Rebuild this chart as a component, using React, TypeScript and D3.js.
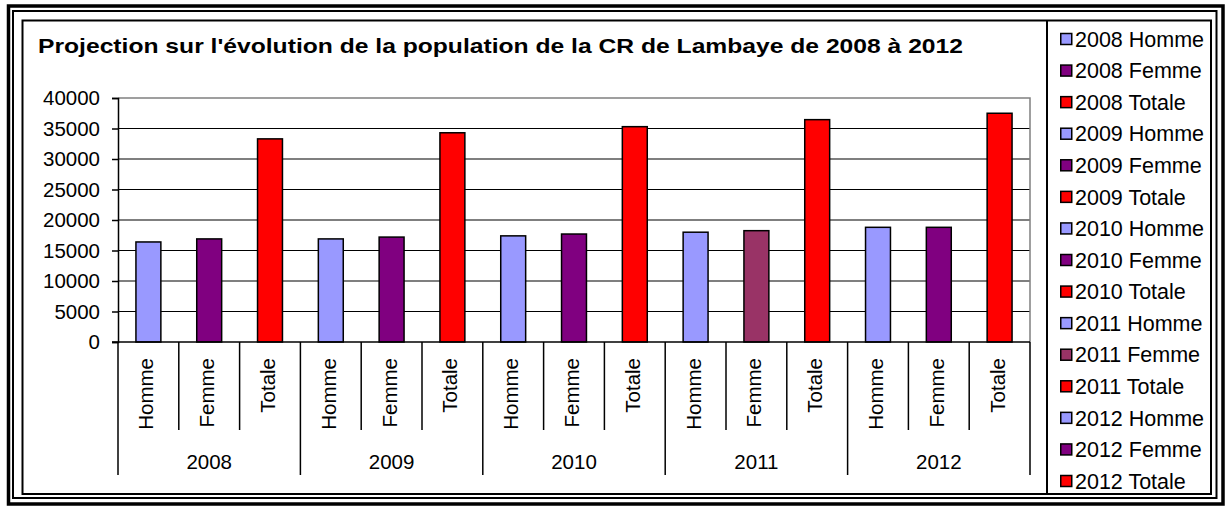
import React, { useEffect, useRef } from 'react';
import * as d3 from 'd3';

const years = ['2008', '2009', '2010', '2011', '2012'];
const genres = ['Homme', 'Femme', 'Totale'];
const hommeValues = [16400, 16900, 17400, 18000, 18800];
const femmeValues = [16900, 17200, 17700, 18250, 18800];
const totaleValues = [33300, 34300, 35300, 36450, 37500];
const hommeColors = ['#9999FF', '#9999FF', '#9999FF', '#9999FF', '#9999FF'];
const femmeColors = ['#800080', '#800080', '#800080', '#993366', '#800080'];
const totaleColors = ['#FF0000', '#FF0000', '#FF0000', '#FF0000', '#FF0000'];
const yTicks = [0, 5000, 10000, 15000, 20000, 25000, 30000, 35000, 40000];
const title = "Projection sur l'évolution de la population de la CR de Lambaye de 2008 à 2012";

const FONT = "'Liberation Sans', Arial, sans-serif";

const App = () => {
  const ref = useRef<SVGSVGElement>(null);

  useEffect(() => {
    const width = 1228;
    const height = 509;
    const svg = d3.select(ref.current);
    svg.selectAll('*').remove();
    svg.attr('width', width).attr('height', height);

    // one row per bar: year + genre
    const rows = years.flatMap((year, i) => [
      { key: `${year} Homme`, year, genre: 'Homme', value: hommeValues[i], color: hommeColors[i] },
      { key: `${year} Femme`, year, genre: 'Femme', value: femmeValues[i], color: femmeColors[i] },
      { key: `${year} Totale`, year, genre: 'Totale', value: totaleValues[i], color: totaleColors[i] },
    ]);

    const plot = { left: 118, right: 1030, top: 98, bottom: 342 };

    // frames
    svg.append('rect').attr('x', 0).attr('y', 0).attr('width', width).attr('height', height).attr('fill', '#fff');
    svg.append('rect')
      .attr('x', 8.5).attr('y', 6).attr('width', 1214.5).attr('height', 498)
      .attr('fill', 'none').attr('stroke', '#000').attr('stroke-width', 3.5);
    svg.append('rect')
      .attr('x', 13).attr('y', 11).attr('width', 1203.5).attr('height', 487)
      .attr('fill', 'none').attr('stroke', '#000').attr('stroke-width', 2);
    svg.append('rect')
      .attr('x', 22.5).attr('y', 20.5).attr('width', 1188.5).attr('height', 473.5)
      .attr('fill', '#fff').attr('stroke', '#000').attr('stroke-width', 2);

    // title
    svg.append('text')
      .attr('x', 38).attr('y', 53)
      .attr('textLength', 925).attr('lengthAdjust', 'spacingAndGlyphs')
      .style('font-family', FONT).style('font-size', '21px').style('font-weight', 'bold')
      .text(title);

    const x = d3.scaleBand()
      .domain(rows.map(d => d.key))
      .range([plot.left, plot.right])
      .paddingInner(0.59)
      .paddingOuter(0.295);
    const step = x.step();

    const y = d3.scaleLinear().domain([0, 40000]).range([plot.bottom, plot.top]);

    // gridlines
    svg.append('g')
      .selectAll('line')
      .data(yTicks.filter(t => t > 0 && t < 40000))
      .enter()
      .append('line')
      .attr('x1', plot.left).attr('x2', plot.right)
      .attr('y1', d => y(d)).attr('y2', d => y(d))
      .attr('stroke', '#000').attr('stroke-width', 1.2);

    // plot border (grey top and right)
    svg.append('path')
      .attr('d', `M${plot.left},${y(40000)}H${plot.right}V${plot.bottom}`)
      .attr('fill', 'none').attr('stroke', '#808080').attr('stroke-width', 1.5);

    // bars
    svg.append('g')
      .selectAll('rect')
      .data(rows)
      .enter()
      .append('rect')
      .attr('x', d => x(d.key) as number)
      .attr('y', d => y(d.value))
      .attr('width', x.bandwidth())
      .attr('height', d => plot.bottom - y(d.value))
      .attr('fill', d => d.color)
      .attr('stroke', '#000')
      .attr('stroke-width', 1.5);

    // y axis
    const yAxis = svg.append('g')
      .attr('transform', `translate(${plot.left},0)`)
      .call(d3.axisLeft(y).tickValues(yTicks).tickSize(6).tickPadding(12).tickFormat(d3.format('d')));
    yAxis.select('.domain').attr('stroke', '#000').attr('stroke-width', 1.5);
    yAxis.selectAll('.tick line').attr('stroke', '#000').attr('stroke-width', 1.5);
    yAxis.selectAll('.tick text')
      .attr('fill', '#000')
      .style('font-family', FONT).style('font-size', '20.5px');

    // x axis line
    svg.append('line')
      .attr('x1', plot.left - 6).attr('x2', plot.right)
      .attr('y1', plot.bottom).attr('y2', plot.bottom)
      .attr('stroke', '#000').attr('stroke-width', 1.5);

    // category separators
    svg.append('g')
      .selectAll('line')
      .data(d3.range(rows.length + 1))
      .enter()
      .append('line')
      .attr('x1', i => plot.left + i * step).attr('x2', i => plot.left + i * step)
      .attr('y1', plot.bottom)
      .attr('y2', i => (i % genres.length === 0 ? 475 : 430))
      .attr('stroke', '#000').attr('stroke-width', 1.5);

    // rotated category labels
    svg.append('g')
      .selectAll('text')
      .data(rows)
      .enter()
      .append('text')
      .attr('transform', d => `translate(${(x(d.key) as number) + x.bandwidth() / 2 + 5},358) rotate(-90)`)
      .attr('text-anchor', 'end')
      .style('font-family', FONT).style('font-size', '20.5px')
      .text(d => d.genre);

    // year labels
    svg.append('g')
      .selectAll('text')
      .data(years)
      .enter()
      .append('text')
      .attr('x', (d, i) => plot.left + (i * genres.length + genres.length / 2) * step)
      .attr('y', 469)
      .attr('text-anchor', 'middle')
      .style('font-family', FONT).style('font-size', '20.5px')
      .text(d => d);

    // legend
    svg.append('line')
      .attr('x1', 1047).attr('x2', 1047).attr('y1', 20.5).attr('y2', 494)
      .attr('stroke', '#000').attr('stroke-width', 2);

    const legendY = d3.scalePoint()
      .domain(rows.map(d => d.key))
      .range([39, 481]);

    const item = svg.append('g')
      .selectAll('g')
      .data(rows)
      .enter()
      .append('g')
      .attr('transform', d => `translate(1060,${legendY(d.key)})`);
    item.append('rect')
      .attr('x', 0.75).attr('y', -5.5).attr('width', 11).attr('height', 11)
      .attr('fill', d => d.color).attr('stroke', '#000').attr('stroke-width', 1.5);
    item.append('text')
      .attr('x', 15).attr('dy', '0.36em')
      .style('font-family', FONT).style('font-size', '21.5px')
      .text(d => d.key);
  }, []);

  return <svg ref={ref} style={{ position: 'absolute', left: 0, top: 0 }}></svg>;
};

export default App;
